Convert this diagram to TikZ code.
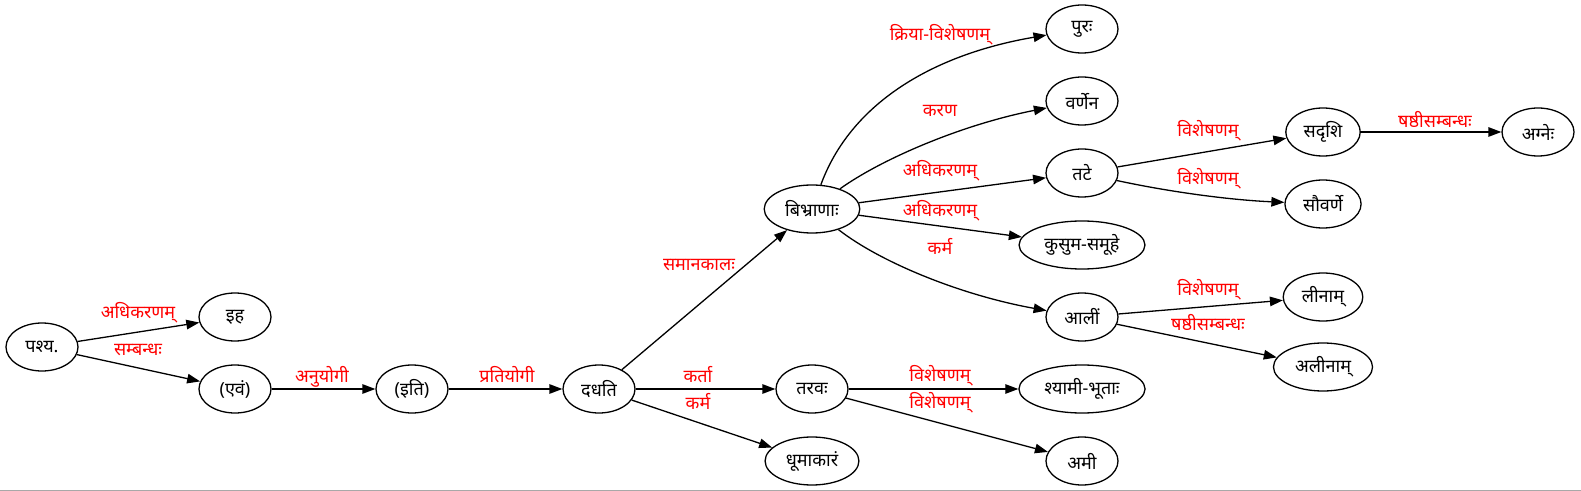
\documentclass[tikz,border=0pt]{standalone}
\usepackage{fontspec}
\setmainfont[Script=Devanagari]{Noto Sans}
\usetikzlibrary{arrows.meta,shapes.geometric}
\definecolor{relred}{HTML}{FF0000}
\definecolor{edgegray}{HTML}{A8A8A8}

\begin{document}
\begin{tikzpicture}[x=1bp,y=-1bp,font=\fontsize{18bp}{22bp}\selectfont,
  >={Triangle[length=13bp,width=9.5bp]},
  word/.style={draw,ellipse,line width=1.3bp,minimum width=72bp,minimum height=48bp,
    inner xsep=7bp,inner ysep=1pt},
  dep/.style={->,line width=1.3bp},
  rel/.style={text=relred,inner sep=0pt,yshift=2bp}]
  \useasboundingbox (0,0) rectangle (1581,491);
  \draw[edgegray] (0,490) -- (1581,490);

  % words
  \node[word] (pashya)   at (42,347)   {पश्य.};
  \node[word] (iha)      at (235,317)  {इह};
  \node[word] (evam)     at (235,389)  {(एवं)};
  \node[word] (iti)      at (412,389)  {(इति)};
  \node[word] (dadhati)  at (599,389)  {दधति};
  \node[word] (taravah)  at (812,389)  {तरवः};
  \node[word] (dhuma)    at (812,461)  {धूमाकारं};
  \node[word] (bibhrana) at (812,209)  {बिभ्राणाः};
  \node[word] (purah)    at (1082,29)  {पुरः};
  \node[word] (varnena)  at (1082,101) {वर्णेन};
  \node[word] (tate)     at (1082,173) {तटे};
  \node[word] (kusuma)   at (1082,245) {कुसुम-समूहे};
  \node[word] (alim)     at (1082,317) {आलीं};
  \node[word] (shyami)   at (1082,389) {श्यामी-भूताः};
  \node[word] (ami)      at (1082,461) {अमी};
  \node[word] (sadrishi) at (1323,132) {सदृशि};
  \node[word] (sauvarne) at (1323,204) {सौवर्णे};
  \node[word] (linam)    at (1323,297) {लीनाम्};
  \node[word] (alinam)   at (1323,367) {अलीनाम्};
  \node[word] (agneh)    at (1538,132) {अग्नेः};

  % dependencies
  \draw[dep] (pashya) -- (iha);
  \draw[dep] (pashya) -- (evam);
  \draw[dep] (evam) -- (iti);
  \draw[dep] (iti) -- (dadhati);
  \draw[dep] (dadhati) -- (bibhrana);
  \draw[dep] (dadhati) -- (taravah);
  \draw[dep] (dadhati) -- (dhuma);
  \draw[dep] (bibhrana) .. controls (850,105) and (930,55) .. (purah);
  \draw[dep] (bibhrana) .. controls (880,160) and (960,125) .. (varnena);
  \draw[dep] (bibhrana) -- (tate);
  \draw[dep] (bibhrana) -- (kusuma);
  \draw[dep] (bibhrana) .. controls (880,262) and (960,295) .. (alim);
  \draw[dep] (taravah) -- (shyami);
  \draw[dep] (taravah) -- (ami);
  \draw[dep] (tate) -- (sadrishi);
  \draw[dep] (tate) .. controls (1170,192) and (1230,200) .. (sauvarne);
  \draw[dep] (sadrishi) -- (agneh);
  \draw[dep] (alim) -- (linam);
  \draw[dep] (alim) -- (alinam);

  % relation labels
  \node[rel] (rIha)      at (138,315)  {अधिकरणम्};
  \node[rel] (rEvam)     at (138,352)  {सम्बन्धः};
  \node[rel] (rIti)      at (322,379)  {अनुयोगी};
  \node[rel] (rDadhati)  at (507,377)  {प्रतियोगी};
  \node[rel] (rBibhrana) at (699,267)  {समानकालः};
  \node[rel] (rTaravah)  at (698,377)  {कर्ता};
  \node[rel] (rDhuma)    at (698,403)  {कर्म};
  \node[rel] (rPurah)    at (940,37)   {क्रिया-विशेषणम्};
  \node[rel] (rVarnena)  at (940,113)  {करण};
  \node[rel] (rTate)     at (940,173)  {अधिकरणम्};
  \node[rel] (rKusuma)   at (940,213)  {अधिकरणम्};
  \node[rel] (rAlim)     at (940,248)  {कर्म};
  \node[rel] (rShyami)   at (940,378)  {विशेषणम्};
  \node[rel] (rAmi)      at (940,405)  {विशेषणम्};
  \node[rel] (rSadrishi) at (1208,133) {विशेषणम्};
  \node[rel] (rSauvarne) at (1208,181) {विशेषणम्};
  \node[rel] (rAgneh)    at (1435,122) {षष्ठीसम्बन्धः};
  \node[rel] (rLinam)    at (1208,292) {विशेषणम्};
  \node[rel] (rAlinam)   at (1208,325) {षष्ठीसम्बन्धः};
\end{tikzpicture}
\end{document}
